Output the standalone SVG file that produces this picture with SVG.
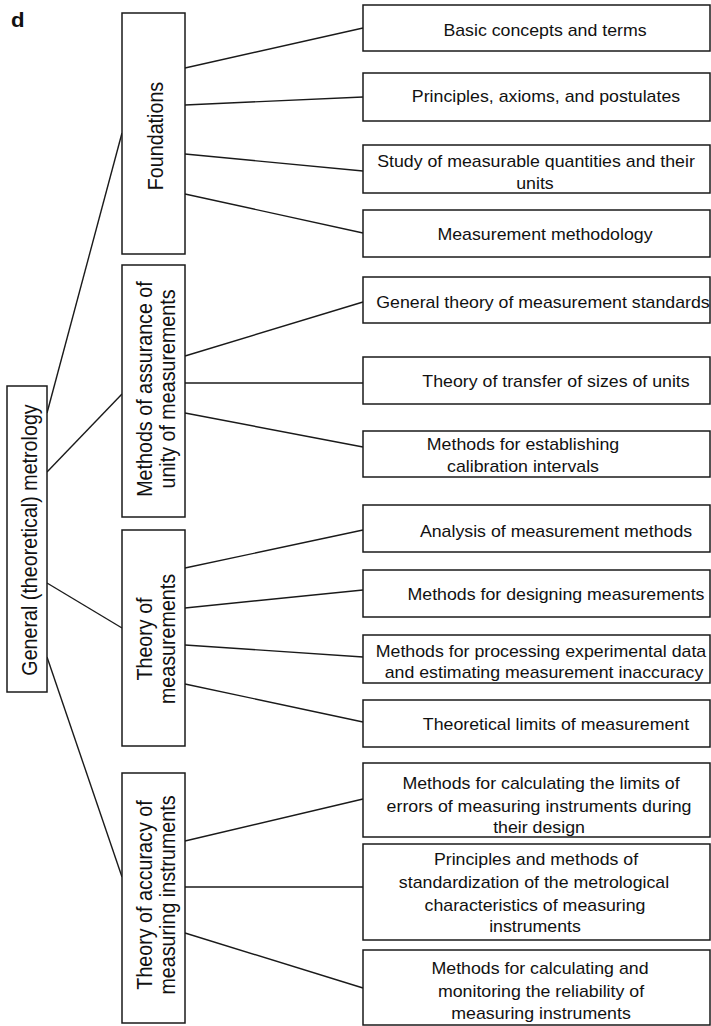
<svg xmlns="http://www.w3.org/2000/svg" width="711" height="1026" viewBox="0 0 711 1026">
<style>
.box{fill:#fff;stroke:#1a1a1a;stroke-width:1.5}
.ln{stroke:#1a1a1a;stroke-width:1.4;fill:none}
text{font-family:"Liberation Sans",Arial,sans-serif;fill:#111;text-anchor:middle}
.t{font-size:16px}
.r{font-size:19.7px}
.lab{font-size:20px;font-weight:bold;text-anchor:start}
</style>
<rect width="711" height="1026" fill="#fff"/>
<text class="lab" transform="translate(11,27) scale(1.11,1)">d</text>
<g id="connectors">
<line class="ln" x1="47" y1="413" x2="122" y2="133"/>
<line class="ln" x1="47" y1="472" x2="122" y2="394"/>
<line class="ln" x1="47" y1="583" x2="122" y2="628"/>
<line class="ln" x1="47" y1="657" x2="122" y2="877"/>
<line class="ln" x1="185" y1="68" x2="363" y2="28"/>
<line class="ln" x1="185" y1="105" x2="363" y2="97"/>
<line class="ln" x1="185" y1="154" x2="363" y2="171"/>
<line class="ln" x1="185" y1="194" x2="363" y2="233"/>
<line class="ln" x1="185" y1="356" x2="363" y2="302"/>
<line class="ln" x1="185" y1="383" x2="363" y2="383"/>
<line class="ln" x1="185" y1="413" x2="363" y2="447"/>
<line class="ln" x1="185" y1="568" x2="363" y2="530"/>
<line class="ln" x1="185" y1="608" x2="363" y2="590"/>
<line class="ln" x1="185" y1="645" x2="363" y2="657"/>
<line class="ln" x1="185" y1="684" x2="363" y2="722"/>
<line class="ln" x1="185" y1="841" x2="363" y2="799"/>
<line class="ln" x1="185" y1="887" x2="363" y2="887"/>
<line class="ln" x1="185" y1="933" x2="363" y2="988"/>
</g>
<g id="root"><rect class="box" x="7" y="386" width="40" height="306"/>
<text class="r" transform="translate(37,540) scale(1.11,1) rotate(-90)">General (theoretical) metrology</text></g>
<g id="foundations"><rect class="box" x="122" y="13" width="63" height="241"/>
<text class="r" transform="translate(163,136) scale(1.11,1) rotate(-90)">Foundations</text></g>
<g id="assurance"><rect class="box" x="122" y="265" width="63" height="252"/>
<text class="r" transform="translate(152,389) scale(1.11,1) rotate(-90)">Methods of assurance of</text>
<text class="r" transform="translate(175,389) scale(1.11,1) rotate(-90)">unity of measurements</text></g>
<g id="theory-meas"><rect class="box" x="122" y="530" width="63" height="216"/>
<text class="r" transform="translate(152,639) scale(1.11,1) rotate(-90)">Theory of</text>
<text class="r" transform="translate(175,639) scale(1.11,1) rotate(-90)">measurements</text></g>
<g id="theory-acc"><rect class="box" x="122" y="773" width="63" height="250"/>
<text class="r" transform="translate(152,895) scale(1.11,1) rotate(-90)">Theory of accuracy of</text>
<text class="r" transform="translate(175,895) scale(1.11,1) rotate(-90)">measuring instruments</text></g>
<g id="n1"><rect class="box" x="363" y="5" width="347" height="46"/>
<text class="t" transform="translate(545,36) scale(1.11,1)">Basic concepts and terms</text></g>
<g id="n2"><rect class="box" x="363" y="73" width="347" height="48"/>
<text class="t" transform="translate(546,102) scale(1.11,1)">Principles, axioms, and postulates</text></g>
<g id="n3"><rect class="box" x="363" y="145" width="347" height="48"/>
<text class="t" transform="translate(536,167) scale(1.11,1)">Study of measurable quantities and their</text>
<text class="t" transform="translate(535,189) scale(1.11,1)">units</text></g>
<g id="n4"><rect class="box" x="363" y="210" width="347" height="47"/>
<text class="t" transform="translate(545,240) scale(1.11,1)">Measurement methodology</text></g>
<g id="n5"><rect class="box" x="363" y="277" width="347" height="46"/>
<text class="t" transform="translate(543,308) scale(1.11,1)">General theory of measurement standards</text></g>
<g id="n6"><rect class="box" x="363" y="357" width="347" height="47"/>
<text class="t" transform="translate(556,387) scale(1.11,1)">Theory of transfer of sizes of units</text></g>
<g id="n7"><rect class="box" x="363" y="431" width="347" height="46"/>
<text class="t" transform="translate(523,450) scale(1.11,1)">Methods for establishing</text>
<text class="t" transform="translate(523,472) scale(1.11,1)">calibration intervals</text></g>
<g id="n8"><rect class="box" x="363" y="505" width="347" height="47"/>
<text class="t" transform="translate(556,537) scale(1.11,1)">Analysis of measurement methods</text></g>
<g id="n9"><rect class="box" x="363" y="570" width="347" height="47"/>
<text class="t" transform="translate(556,600) scale(1.11,1)">Methods for designing measurements</text></g>
<g id="n10"><rect class="box" x="363" y="635" width="347" height="48"/>
<text class="t" transform="translate(541,657) scale(1.11,1)">Methods for processing experimental data</text>
<text class="t" transform="translate(544,678) scale(1.11,1)">and estimating measurement inaccuracy</text></g>
<g id="n11"><rect class="box" x="363" y="700" width="347" height="47"/>
<text class="t" transform="translate(556,730) scale(1.11,1)">Theoretical limits of measurement</text></g>
<g id="n12"><rect class="box" x="363" y="763" width="347" height="74"/>
<text class="t" transform="translate(541,789) scale(1.11,1)">Methods for calculating the limits of</text>
<text class="t" transform="translate(539,812) scale(1.11,1)">errors of measuring instruments during</text>
<text class="t" transform="translate(539,833) scale(1.11,1)">their design</text></g>
<g id="n13"><rect class="box" x="363" y="844" width="347" height="96"/>
<text class="t" transform="translate(536,865) scale(1.11,1)">Principles and methods of</text>
<text class="t" transform="translate(534,888) scale(1.11,1)">standardization of the metrological</text>
<text class="t" transform="translate(535,911) scale(1.11,1)">characteristics of measuring</text>
<text class="t" transform="translate(535,932) scale(1.11,1)">instruments</text></g>
<g id="n14"><rect class="box" x="363" y="950" width="347" height="75"/>
<text class="t" transform="translate(540,974) scale(1.11,1)">Methods for calculating and</text>
<text class="t" transform="translate(541,997) scale(1.11,1)">monitoring the reliability of</text>
<text class="t" transform="translate(541,1019) scale(1.11,1)">measuring instruments</text></g>
</svg>
